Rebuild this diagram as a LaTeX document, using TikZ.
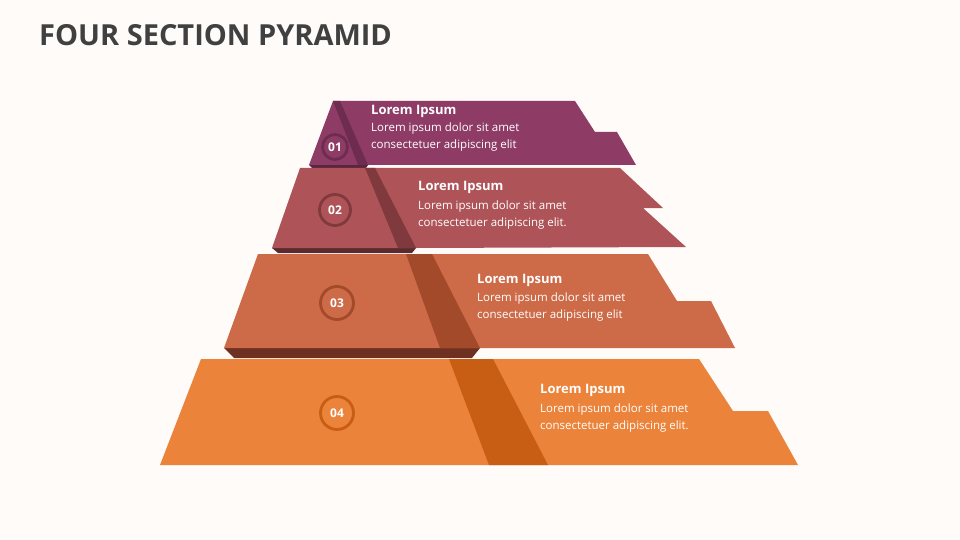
\documentclass[tikz,border=0pt]{standalone}
\usepackage{fontspec}
\setmainfont{Open Sans}
\usetikzlibrary{positioning}
\definecolor{bgc}{HTML}{FEFBF9}
\definecolor{titlec}{HTML}{404040}
\definecolor{tA}{HTML}{8E3B66}\definecolor{sA}{HTML}{6E2D50}\definecolor{bA}{HTML}{5A2540}
\definecolor{tB}{HTML}{AE5458}\definecolor{sB}{HTML}{80393D}\definecolor{bB}{HTML}{5A2A2E}
\definecolor{tC}{HTML}{CD6A47}\definecolor{sC}{HTML}{A34A2B}\definecolor{bC}{HTML}{6E3020}
\definecolor{tD}{HTML}{EC833A}\definecolor{sD}{HTML}{C85E14}
\tikzset{x=1pt, y=-1pt,
  every node/.style={align=left, text=white},
  numring/.style={circle, line width=2.8pt, inner sep=0pt, font=\fontsize{12}{12}\selectfont\bfseries},
  head/.style={anchor=west, inner sep=0pt, font=\fontsize{13}{13}\selectfont\bfseries},
  body/.style={anchor=north west, inner sep=0pt, font=\fontsize{11.5}{17}\selectfont}}
\begin{document}
\begin{tikzpicture}
  \fill[bgc] (0,0) rectangle (960,540);
  \useasboundingbox (0,0) rectangle (960,540);
  \node[anchor=west, inner sep=0pt, text=titlec, font=\fontsize{29}{29}\selectfont\bfseries] (title) at (39,35) {FOUR SECTION PYRAMID};

  % tier 1
  \fill[bA] (309,165) -- (368,165) -- (366,168) -- (312,168) -- cycle;
  \fill[tA] (333,101) -- (575,101) -- (595,132) -- (617,132) -- (636,165) -- (309,165) -- cycle;
  \fill[sA] (333,101) -- (340,101) -- (368,165) -- (358,165) -- cycle;
  \node[numring, draw=sA, minimum size=25pt] (n1) at (335,147) {01};
  \node[head] (h1) at (371,111) {Lorem Ipsum};
  \node[body] (t1) at (371,123) {Lorem ipsum dolor sit amet\\consectetuer adipiscing elit};

  % tier 2
  \fill[bB] (272,248) -- (416,248) -- (412,253) -- (278,253) -- cycle;
  \fill[tB] (300,168) -- (620,168) -- (663,208) -- (643,208) -- (686,247) -- (416,248) -- (272,248) -- cycle;
  \fill[sB] (365,168) -- (375,168) -- (416,248) -- (398,248) -- cycle;
  \node[numring, draw=sB, minimum size=31pt] (n2) at (335,210) {02};
  \node[head] (h2) at (418,187) {Lorem Ipsum};
  \node[body] (t2) at (418,201) {Lorem ipsum dolor sit amet\\consectetuer adipiscing elit.};

  % tier 3
  \fill[bC] (224,348) -- (480,348) -- (472,358) -- (234,358) -- cycle;
  \fill[tC] (258,254) -- (648,254) -- (677,301) -- (711,301) -- (735,348) -- (224,348) -- cycle;
  \fill[sC] (406,254) -- (432,254) -- (480,348) -- (440,348) -- cycle;
  \node[numring, draw=sC, minimum size=33pt] (n3) at (337,303) {03};
  \node[head] (h3) at (477,280) {Lorem Ipsum};
  \node[body] (t3) at (477,293) {Lorem ipsum dolor sit amet\\consectetuer adipiscing elit};

  % tier 4
  \fill[tD] (201,359) -- (699,359) -- (733,411) -- (768,411) -- (798,465) -- (160,465) -- cycle;
  \fill[sD] (449,359) -- (493,359) -- (548,465) -- (489,465) -- cycle;
  \node[numring, draw=sD, minimum size=33pt] (n4) at (337,413) {04};
  \node[head] (h4) at (540,390) {Lorem Ipsum};
  \node[body] (t4) at (540,404) {Lorem ipsum dolor sit amet\\consectetuer adipiscing elit.};
\end{tikzpicture}
\end{document}
